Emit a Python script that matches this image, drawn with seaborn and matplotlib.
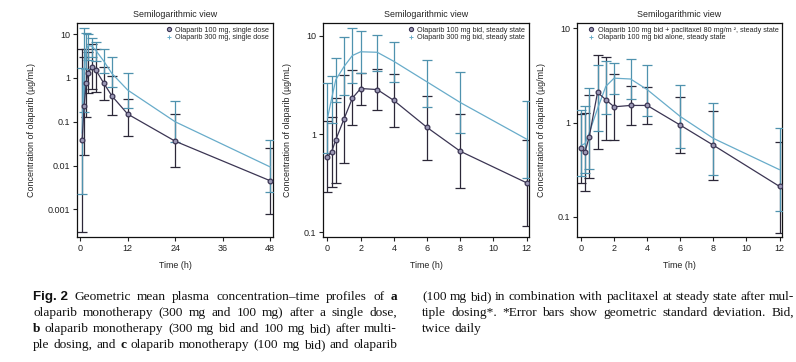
import numpy as np
import matplotlib
matplotlib.use("Agg")
import matplotlib.pyplot as plt
from matplotlib.lines import Line2D
from matplotlib.ticker import NullLocator, FixedLocator, FixedFormatter
import seaborn as sns

# ---- data ----
a_time = [0.5, 1, 1.5, 2, 3, 4, 6, 8, 12, 24, 48]
a_mean_100 = [0.038, 0.23, 0.75, 1.3, 1.8, 1.5, 0.75, 0.39, 0.15, 0.036, 0.0045]
a_lo_100 = [0.0003, 0.017, 0.13, 0.45, 0.55, 0.48, 0.31, 0.14, 0.047, 0.0091, 0.0008]
a_hi_100 = [4.5, 3.0, 4.5, 3.9, 5.9, 4.7, 1.8, 1.1, 0.33, 0.148, 0.025]
a_mean_300 = [0.055, 1.5, 4.3, 5.5, 5.3, 4.2, 2.4, 1.27, 0.53, 0.1, 0.0093]
a_lo_300 = [0.0022, 0.17, 1.6, 2.6, 3.0, 2.4, 1.3, 0.62, 0.21, 0.034, 0.0025]
a_hi_300 = [1.7, 13.5, 10.4, 10.2, 8.3, 6.7, 4.5, 2.95, 1.28, 0.3, 0.038]

b_time = [0, 0.25, 0.5, 1, 1.5, 2, 3, 4, 6, 8, 12]
b_mean_100 = [0.59, 0.66, 0.875, 1.43, 2.32, 2.91, 2.84, 2.2, 1.17, 0.67, 0.32]
b_lo_100 = [0.255, 0.29, 0.32, 0.51, 1.23, 1.97, 1.74, 1.18, 0.54, 0.28, 0.115]
b_hi_100 = [1.37, 1.5, 2.35, 4.0, 4.44, 4.23, 4.6, 4.1, 2.45, 1.6, 0.87]
b_mean_300 = [1.45, 2.3, 3.57, 4.87, 6.3, 6.88, 6.8, 5.5, 3.4, 2.1, 0.89]
b_lo_300 = [0.64, 1.3, 2.1, 2.5, 3.3, 4.2, 4.4, 3.4, 1.9, 1.02, 0.36]
b_hi_300 = [3.3, 3.9, 5.9, 9.7, 12.0, 11.3, 10.2, 8.6, 5.7, 4.3, 2.15]

c_time = [0, 0.25, 0.5, 1, 1.5, 2, 3, 4, 6, 8, 12]
c_mean_pac = [0.54, 0.49, 0.71, 2.09, 1.75, 1.47, 1.52, 1.52, 0.94, 0.575, 0.21]
c_lo_pac = [0.23, 0.19, 0.26, 0.52, 0.66, 0.66, 0.95, 0.97, 0.48, 0.248, 0.068]
c_hi_pac = [1.23, 1.25, 1.97, 5.2, 4.92, 3.3, 2.42, 2.4, 1.87, 1.33, 0.616]
c_mean_alone = [0.57, 0.6, 0.78, 1.4, 2.42, 2.96, 2.9, 2.24, 1.16, 0.68, 0.316]
c_lo_alone = [0.27, 0.29, 0.32, 0.81, 1.23, 2.0, 1.8, 1.16, 0.54, 0.28, 0.114]
c_hi_alone = [1.37, 1.51, 2.33, 4.1, 4.46, 4.3, 4.7, 4.12, 2.52, 1.61, 0.877]

legend_a = ["Olaparib 100 mg, single dose", "Olaparib 300 mg, single dose"]
legend_b = ["Olaparib 100 mg bid, steady state", "Olaparib 300 mg bid, steady state"]
legend_c = ["Olaparib 100 mg bid + paclitaxel 80 mg/m \u00b2, steady state",
            "Olaparib 100 mg bid alone, steady state"]

DARK = "#3b3553"
DARK_BAR = "#2c2838"
LIGHT = "#68acca"
LIGHT_BAR = "#4f92ae"
FACE = "#9c99b6"

sns.set_theme(style="ticks")
plt.rcParams["font.family"] = ["Liberation Sans", "DejaVu Sans"]
plt.rcParams["axes.linewidth"] = 0.9

W, H = 796, 362
fig = plt.figure(figsize=(W / 100, H / 100), dpi=100)
fig.patch.set_facecolor("white")


def px_axes(left, right, top, bottom):
    return fig.add_axes([left / W, 1 - bottom / H, (right - left) / W, (bottom - top) / H])


def panel(ax, t, m1, lo1, hi1, m2, lo2, hi2, labels, xlim, xticks, ylim, yticks, ylabels):
    m1, lo1, hi1 = map(np.asarray, (m1, lo1, hi1))
    m2, lo2, hi2 = map(np.asarray, (m2, lo2, hi2))
    ax.errorbar(t, m1, yerr=[m1 - lo1, hi1 - m1], fmt="none", ecolor=DARK_BAR,
                elinewidth=0.9, capsize=3.5, capthick=0.9, zorder=2)
    ax.errorbar(t, m2, yerr=[m2 - lo2, hi2 - m2], fmt="none", ecolor=LIGHT_BAR,
                elinewidth=0.9, capsize=3.5, capthick=0.9, zorder=3)
    sns.lineplot(x=t, y=m2, ax=ax, color=LIGHT, linewidth=0.9, zorder=4, legend=False)
    sns.lineplot(x=t, y=m1, ax=ax, color=DARK, linewidth=0.9, marker="o",
                 markersize=3.4, markerfacecolor=FACE, markeredgecolor=DARK,
                 markeredgewidth=0.9, zorder=5, legend=False)
    ax.set_yscale("log")
    ax.set_xlim(*xlim)
    ax.set_ylim(*ylim)
    ax.xaxis.set_major_locator(FixedLocator(xticks))
    ax.yaxis.set_major_locator(FixedLocator(yticks))
    ax.yaxis.set_major_formatter(FixedFormatter(ylabels))
    ax.yaxis.set_minor_locator(NullLocator())
    ax.tick_params(axis="both", direction="out", length=3, width=0.8,
                   labelsize=6.5, pad=2, colors="#222222")
    for s in ax.spines.values():
        s.set_color("#111111")
    ax.set_title("Semilogarithmic view", fontsize=6.4, pad=4, color="#222222")
    ax.set_xlabel("Time (h)", fontsize=6.4, labelpad=6, color="#222222")
    ax.set_ylabel("Concentration of olaparib (\u00b5g/mL)", fontsize=6.4,
                  labelpad=8, color="#222222")
    handles = [
        Line2D([], [], linestyle="none", marker="o", markersize=3, markerfacecolor=FACE,
               markeredgecolor=DARK, markeredgewidth=0.8),
        Line2D([], [], linestyle="none", marker="+", markersize=3.5, markeredgecolor=LIGHT,
               markeredgewidth=0.7),
    ]
    ax.legend(handles, labels, loc="upper right", fontsize=5.2, frameon=False,
              handlelength=0.8, handletextpad=0.5, labelspacing=0.1,
              borderaxespad=0.3, borderpad=0.2)


ax_a = px_axes(77, 273, 23, 237)
ax_b = px_axes(323, 529, 23, 237)
ax_c = px_axes(577, 782, 23, 237)

panel(ax_a, a_time, a_mean_100, a_lo_100, a_hi_100, a_mean_300, a_lo_300, a_hi_300,
      legend_a, (-0.8, 48.7), [0, 12, 24, 36, 48], (0.000234, 18),
      [10, 1, 0.1, 0.01, 0.001], ["10", "1", "0.1", "0.01", "0.001"])
panel(ax_b, b_time, b_mean_100, b_lo_100, b_hi_100, b_mean_300, b_lo_300, b_hi_300,
      legend_b, (-0.27, 12.15), [0, 2, 4, 6, 8, 10, 12], (0.0898, 13.5),
      [10, 1, 0.1], ["10", "1", "0.1"])
panel(ax_c, c_time, c_mean_pac, c_lo_pac, c_hi_pac, c_mean_alone, c_lo_alone, c_hi_alone,
      legend_c, (-0.24, 12.15), [0, 2, 4, 6, 8, 10, 12], (0.061, 11.4),
      [10, 1, 0.1], ["10", "1", "0.1"])

# ---- caption, justified word by word ----
caption_left = [
    [("Fig. 2", "bs"), ("Geometric mean plasma concentration\u2013time profiles of", ""), ("a", "b")],
    [("olaparib monotherapy (300 mg and 100 mg) after a single dose,", "")],
    [("b", "b"), ("olaparib monotherapy (300 mg bid and 100 mg bid) after multi-", "")],
    [("ple dosing, and", ""), ("c", "b"), ("olaparib monotherapy (100 mg bid) and olaparib", "")],
]
caption_right = [
    [("(100 mg bid) in combination with paclitaxel at steady state after mul-", "")],
    [("tiple dosing*. *Error bars show geometric standard deviation. Bid,", "")],
    [("twice daily", "")],
]
styles = {
    "": dict(family="Liberation Serif"),
    "b": dict(family="Liberation Serif", weight="bold"),
    "bs": dict(family="Liberation Sans", weight="bold"),
}
CAP_SIZE = 9.6
fig.canvas.draw()
renderer = fig.canvas.get_renderer()


def caption_line(chunks, x0, x1, y, justify=True):
    words = []
    for text, st in chunks:
        if st == "bs":
            words.append((text, st))
        else:
            words.extend((w, st) for w in text.split(" "))
    items = []
    for w, st in words:
        t = fig.text(0, 1 - y / H, w, fontsize=CAP_SIZE, va="center", ha="left",
                     color="#111111", **styles[st])
        items.append((t, t.get_window_extent(renderer).width))
    total = sum(w for _, w in items)
    if justify and len(items) > 1:
        gap = (x1 - x0 - total) / (len(items) - 1)
    else:
        gap = CAP_SIZE * 0.25 * 100 / 72
    x = x0
    for t, w in items:
        t.set_x(x / W)
        x += w + gap


line_y = [297, 313, 329, 345]
for i, chunks in enumerate(caption_left):
    caption_line(chunks, 33, 397, line_y[i])
for i, chunks in enumerate(caption_right):
    caption_line(chunks, 422, 794, line_y[i], justify=(i < len(caption_right) - 1))

fig.savefig("out.png", dpi=100, facecolor="white")
